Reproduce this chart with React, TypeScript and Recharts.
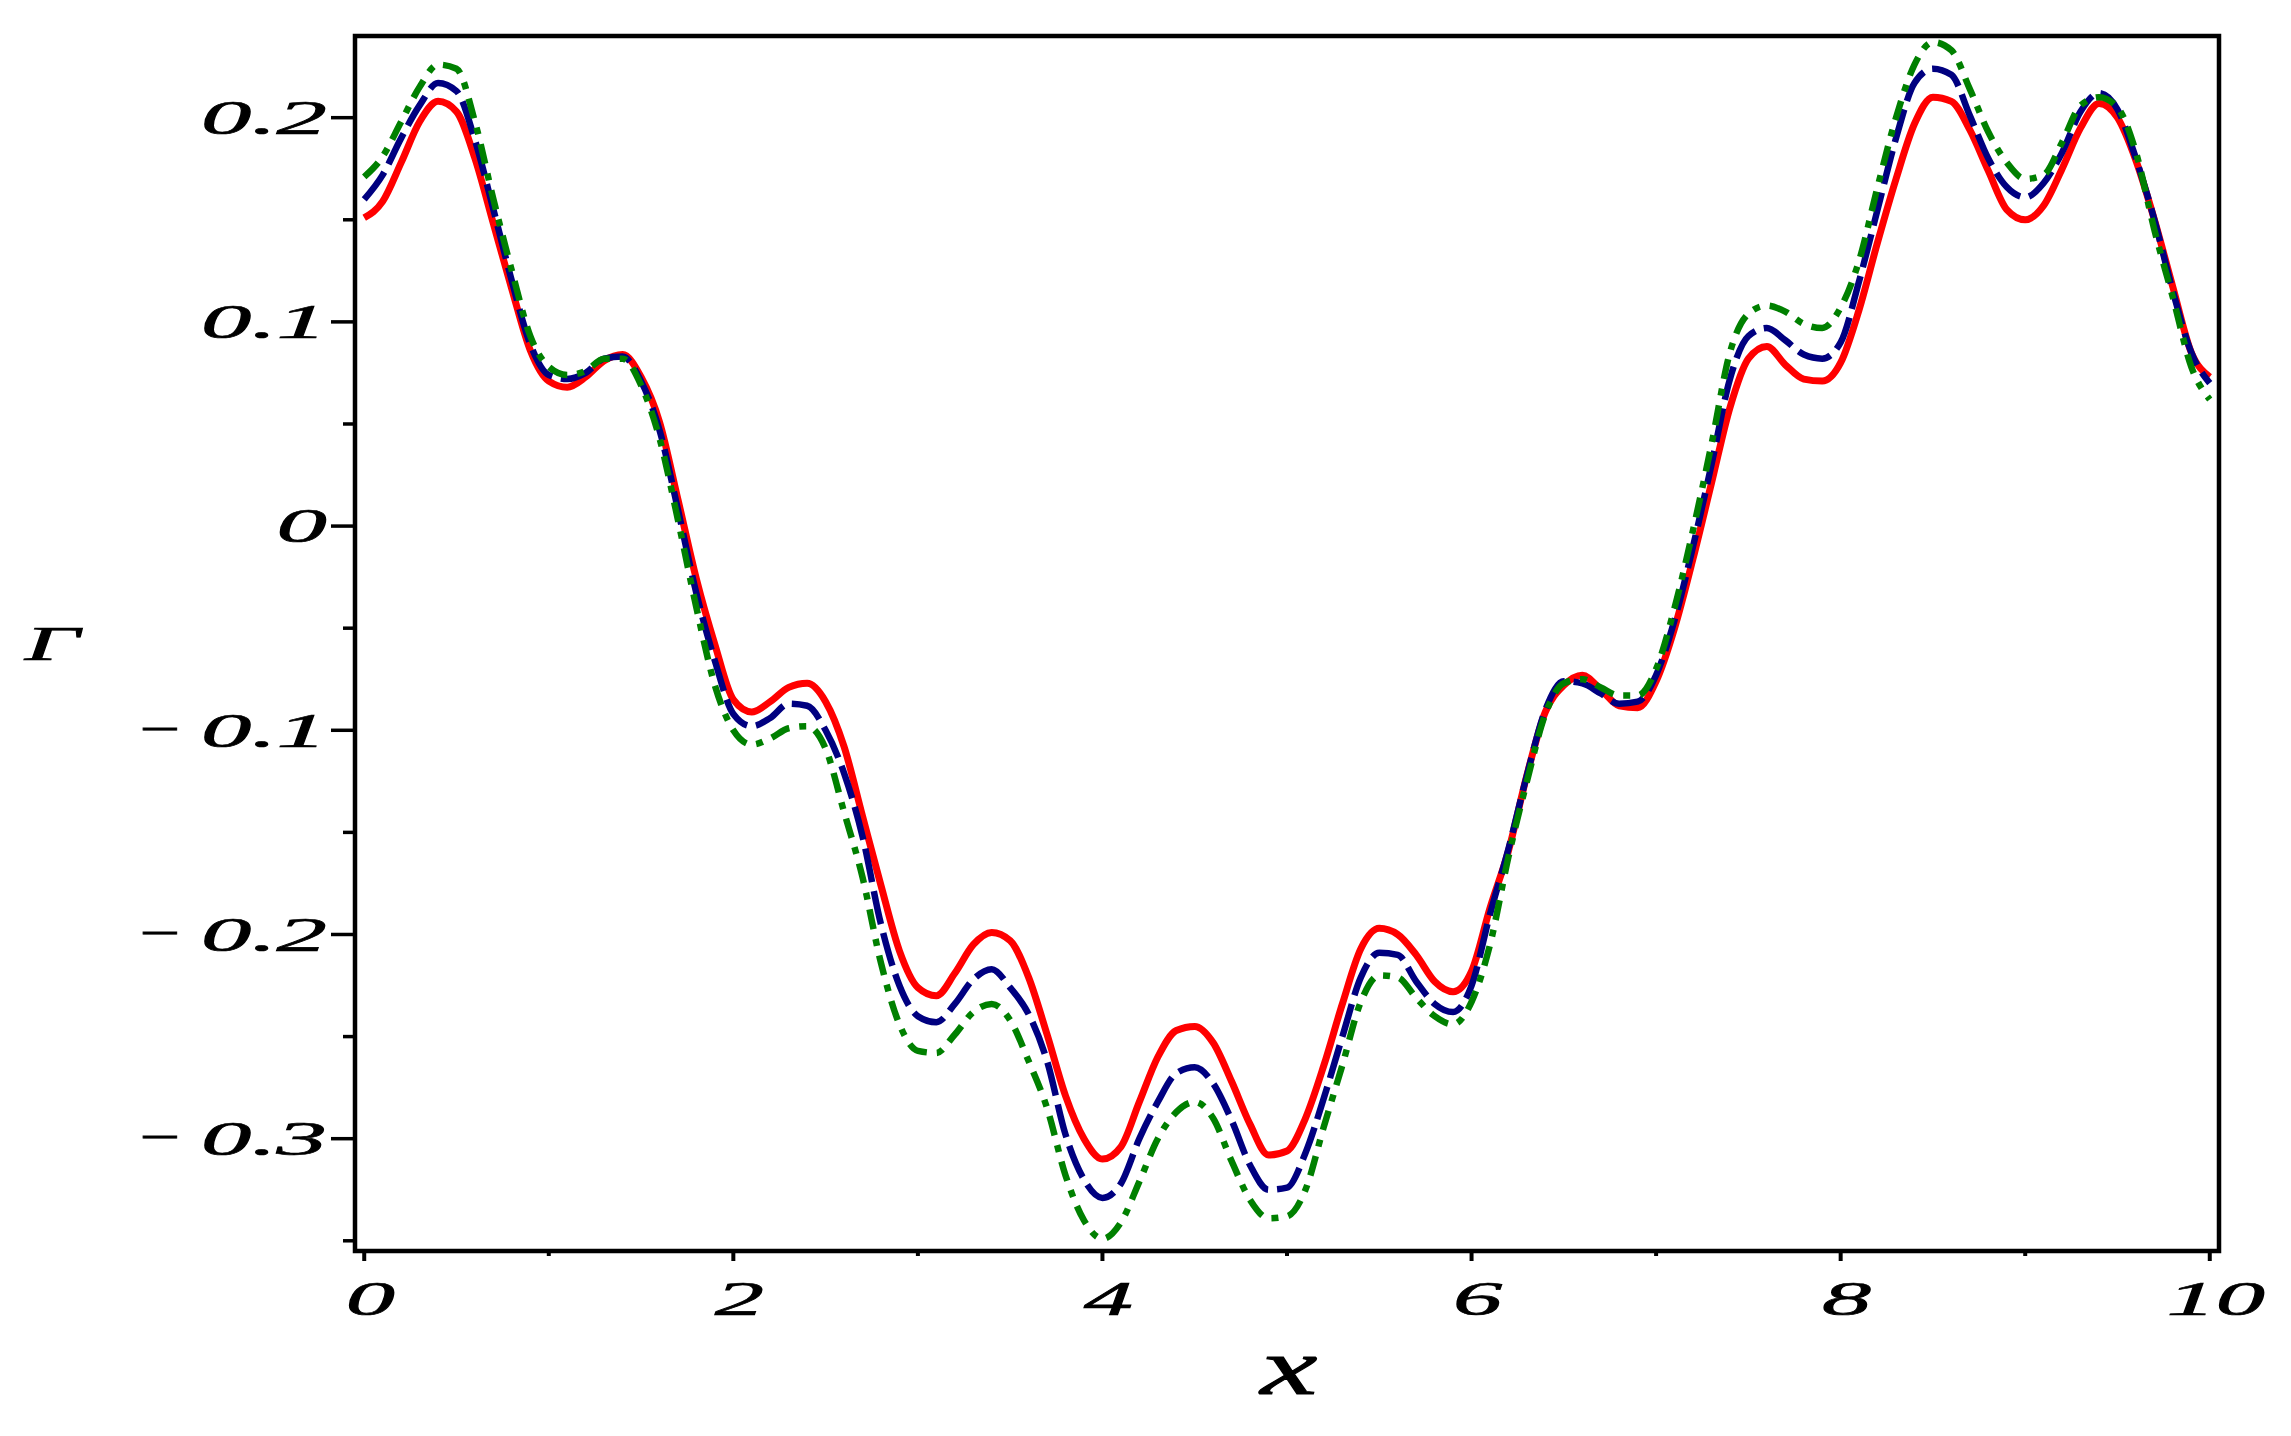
import { LineChart, Line, XAxis, YAxis, ReferenceArea } from "recharts"

// sample positions along x
const xs = [
  0, 0.1, 0.2, 0.3, 0.4, 0.5, 0.6, 0.7, 0.8, 0.9,
  1, 1.1, 1.2, 1.3, 1.4, 1.5, 1.6, 1.7, 1.8, 1.9,
  2, 2.1, 2.2, 2.3, 2.4, 2.5, 2.6, 2.7, 2.8, 2.9,
  3, 3.1, 3.2, 3.3, 3.4, 3.5, 3.6, 3.7, 3.8, 3.9,
  4, 4.1, 4.2, 4.3, 4.4, 4.5, 4.6, 4.7, 4.8, 4.9,
  5, 5.1, 5.2, 5.3, 5.4, 5.5, 5.6, 5.7, 5.8, 5.9,
  6, 6.1, 6.2, 6.3, 6.4, 6.5, 6.6, 6.7, 6.8, 6.9,
  7, 7.1, 7.2, 7.3, 7.4, 7.5, 7.6, 7.7, 7.8, 7.9,
  8, 8.1, 8.2, 8.3, 8.4, 8.5, 8.6, 8.7, 8.8, 8.9,
  9, 9.1, 9.2, 9.3, 9.4, 9.5, 9.6, 9.7, 9.8, 9.9,
  10,
]

// red, solid
const gammaRed = [
  0.151, 0.159, 0.178, 0.198, 0.208, 0.203, 0.18, 0.148, 0.116, 0.086,
  0.071, 0.068, 0.073, 0.081, 0.084, 0.073, 0.051, 0.013, -0.026, -0.058,
  -0.085, -0.091, -0.086, -0.079, -0.077, -0.086, -0.108, -0.142, -0.176, -0.208,
  -0.226, -0.23, -0.219, -0.205, -0.199, -0.203, -0.221, -0.249, -0.279, -0.3,
  -0.31, -0.304, -0.282, -0.26, -0.247, -0.245, -0.253, -0.272, -0.293, -0.308,
  -0.306, -0.29, -0.264, -0.234, -0.207, -0.197, -0.2, -0.21, -0.223, -0.228,
  -0.218, -0.187, -0.159, -0.122, -0.091, -0.078, -0.073, -0.08, -0.088, -0.089,
  -0.076, -0.05, -0.016, 0.021, 0.058, 0.082, 0.088, 0.079, 0.072, 0.071,
  0.08, 0.106, 0.139, 0.17, 0.197, 0.21, 0.208, 0.194, 0.174, 0.155,
  0.15, 0.157, 0.175, 0.195, 0.207, 0.2, 0.179, 0.15, 0.117, 0.085,
  0.073,
]

// navy, long dashes
const gammaBlue = [
  0.16, 0.172, 0.19, 0.206, 0.217, 0.213, 0.189, 0.155, 0.12, 0.089,
  0.074, 0.072, 0.075, 0.082, 0.083, 0.071, 0.047, 0.008, -0.033, -0.066,
  -0.092, -0.098, -0.094, -0.087, -0.088, -0.1, -0.121, -0.152, -0.195, -0.225,
  -0.24, -0.243, -0.234, -0.222, -0.217, -0.226, -0.239, -0.262, -0.298, -0.32,
  -0.329, -0.322, -0.3, -0.282, -0.268, -0.265, -0.273, -0.291, -0.313, -0.325,
  -0.324, -0.307, -0.28, -0.25, -0.221, -0.209, -0.21, -0.223, -0.234, -0.238,
  -0.225, -0.19, -0.158, -0.122, -0.09, -0.076, -0.077, -0.082, -0.087, -0.086,
  -0.073, -0.046, -0.01, 0.03, 0.072, 0.093, 0.097, 0.091, 0.084, 0.082,
  0.09, 0.12, 0.155, 0.19, 0.217, 0.224, 0.221, 0.201, 0.18, 0.166,
  0.161, 0.168, 0.183, 0.203, 0.212, 0.204, 0.18, 0.15, 0.115, 0.085,
  0.07,
]

// green, broken dashes
const gammaGreen = [
  0.171, 0.181, 0.198, 0.215, 0.226, 0.224, 0.198, 0.16, 0.125, 0.093,
  0.078, 0.074, 0.076, 0.082, 0.082, 0.069, 0.043, 0.003, -0.04, -0.078,
  -0.1, -0.107, -0.104, -0.099, -0.098, -0.109, -0.14, -0.172, -0.214, -0.244,
  -0.257, -0.258, -0.249, -0.238, -0.234, -0.242, -0.262, -0.285, -0.318, -0.34,
  -0.349, -0.341, -0.321, -0.3, -0.287, -0.282, -0.29, -0.311, -0.33, -0.339,
  -0.338, -0.325, -0.294, -0.264, -0.233, -0.22, -0.221, -0.231, -0.24, -0.244,
  -0.233, -0.205, -0.162, -0.125, -0.092, -0.077, -0.075, -0.079, -0.083, -0.083,
  -0.07, -0.04, -0.002, 0.04, 0.085, 0.104, 0.108, 0.105, 0.099, 0.097,
  0.107, 0.13, 0.166, 0.2, 0.226, 0.237, 0.233, 0.214, 0.193, 0.178,
  0.17, 0.172, 0.188, 0.206, 0.21, 0.205, 0.183, 0.145, 0.112, 0.078,
  0.062,
]

const xTicks = [0, 1, 2, 3, 4, 5, 6, 7, 8, 9, 10]
const xLabels = ["0", "", "2", "", "4", "", "6", "", "8", "", "10"]
const yTicks = [-0.35, -0.3, -0.25, -0.2, -0.15, -0.1, -0.05, 0, 0.05, 0.1, 0.15, 0.2]
const yLabels = ["", "\u2212 0.3", "", "\u2212 0.2", "", "\u2212 0.1", "", "0", "", "0.1", "", "0.2"]

const xDomain = [-0.05, 10.05]
const yDomain = [-0.355, 0.24]

const data = xs.map((x, i) => ({ x, red: gammaRed[i], blue: gammaBlue[i], green: gammaGreen[i] }))

const labelFont = {
  fontFamily: "'Liberation Serif', 'DejaVu Serif', serif",
  fontStyle: "italic",
  fontSize: 48,
  fill: "#000",
  stroke: "#000",
  strokeWidth: 0.7,
}

const YTick = ({ x, y, payload }: any) => {
  const idx = yTicks.findIndex((t) => Math.abs(t - payload.value) < 1e-9)
  const label = yLabels[idx] || ""
  const len = label ? 24 : 12
  const negative = label.startsWith("\u2212")
  const digits = negative ? label.slice(1).trim() : label
  return (
    <g>
      <line x1={x - len} x2={x} y1={y} y2={y} stroke="#000" strokeWidth={3.5} />
      {label && (
        <text transform={`translate(${x - 28},${y}) scale(2.1,1)`} textAnchor="end" dy="0.34em" {...labelFont}>
          {digits}
        </text>
      )}
      {negative && (
        <text transform={`translate(${x - 196},${y}) scale(1.5,1)`} textAnchor="middle" dy="0.3em" {...labelFont}>
          {"\u2212"}
        </text>
      )}
    </g>
  )
}

const XTick = ({ x, y, payload }: any) => {
  const idx = xTicks.indexOf(payload.value)
  const label = xLabels[idx] || ""
  const len = label ? 10 : 5
  return (
    <g>
      <line x1={x} x2={x} y1={y} y2={y + len} stroke="#000" strokeWidth={4} />
      {label && (
        <text transform={`translate(${x + 6},${y + 64}) scale(2.05,1)`} textAnchor="middle" {...labelFont}>
          {label}
        </text>
      )}
    </g>
  )
}

const YTitle = ({ viewBox }: any) => {
  const cy = viewBox.y + viewBox.height / 2
  return (
    <text transform={`translate(${viewBox.x + 44},${cy + 16}) scale(2,1)`} textAnchor="middle" {...labelFont}>
      Γ
    </text>
  )
}

const XTitle = ({ viewBox }: any) => {
  const cx = viewBox.x + viewBox.width / 2
  return (
    <text
      transform={`translate(${cx + 2},${viewBox.y + 143}) scale(1.6,1)`}
      textAnchor="middle"
      {...labelFont}
      fontSize={80}
      strokeWidth={1}
    >
      x
    </text>
  )
}

const App = () => {
  return (
    <div style={{ width: 2275, height: 1420, background: "#fff" }}>
      <LineChart width={2275} height={1420} data={data} margin={{ top: 28, right: 64, left: 0, bottom: 0 }}>
        <XAxis
          dataKey="x"
          type="number"
          domain={xDomain}
          ticks={xTicks}
          interval={0}
          allowDataOverflow
          axisLine={false}
          tickLine={false}
          tickSize={0}
          tickMargin={0}
          height={177}
          tick={<XTick />}
          label={<XTitle />}
        />
        <YAxis
          type="number"
          domain={yDomain}
          ticks={yTicks}
          interval={0}
          allowDataOverflow
          axisLine={false}
          tickLine={false}
          tickSize={0}
          tickMargin={0}
          width={347}
          tick={<YTick />}
          label={<YTitle />}
        />
        <ReferenceArea
          x1={xDomain[0]}
          x2={xDomain[1]}
          y1={yDomain[0]}
          y2={yDomain[1]}
          fill="none"
          stroke="#000"
          strokeWidth={4.5}
          ifOverflow="visible"
        />
        <Line
          type="monotone"
          dataKey="red"
          stroke="#ff0000"
          strokeWidth={7}
          dot={false}
          isAnimationActive={false}
        />
        <Line
          type="monotone"
          dataKey="blue"
          stroke="#000080"
          strokeWidth={6.5}
          strokeDasharray="34 9"
          dot={false}
          isAnimationActive={false}
        />
        <Line
          type="monotone"
          dataKey="green"
          stroke="#008000"
          strokeWidth={6.5}
          strokeDasharray="20 10 7 10"
          dot={false}
          isAnimationActive={false}
        />
      </LineChart>
    </div>
  )
}

export default App
